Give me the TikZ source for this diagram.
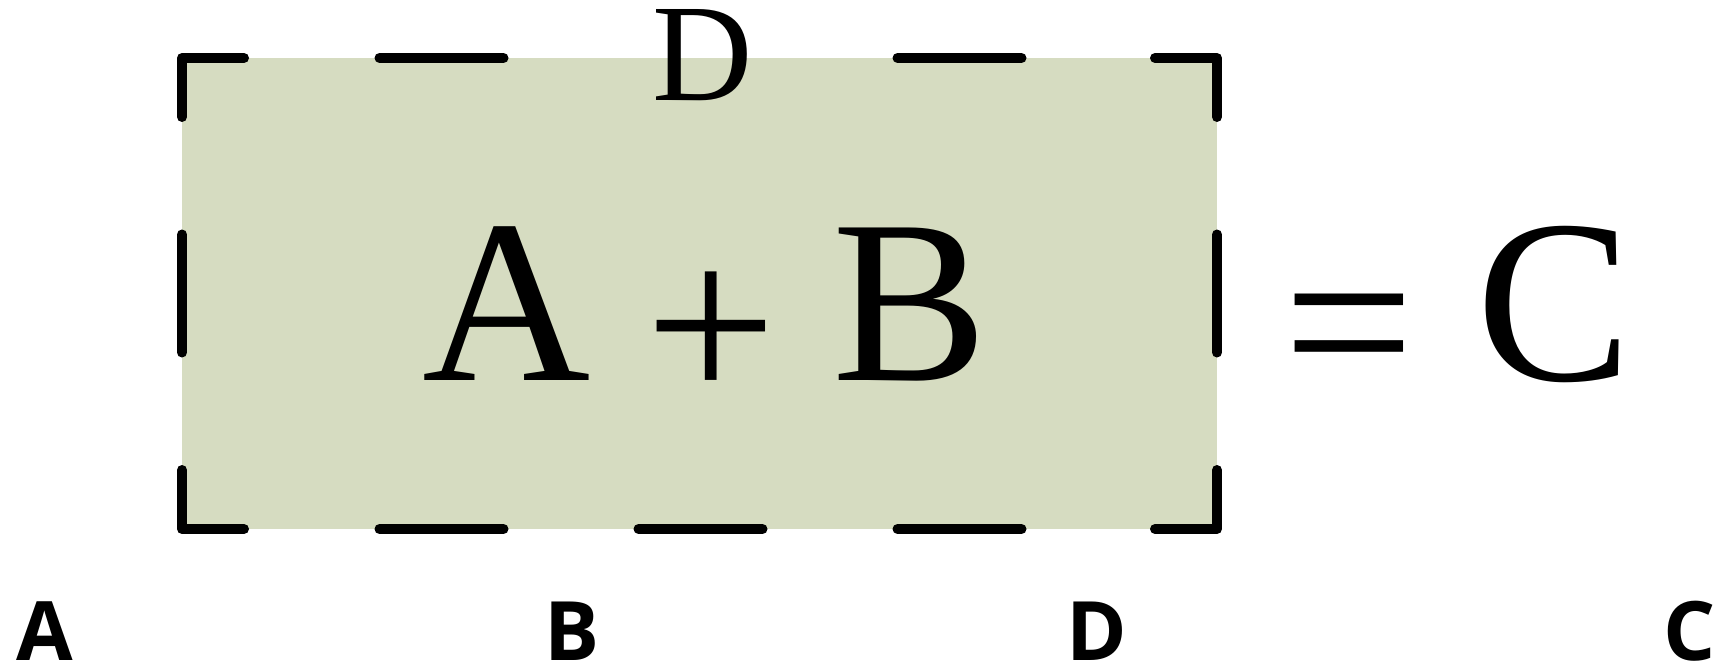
\documentclass[tikz,border=0pt]{standalone}
\usepackage{fontspec}
\usetikzlibrary{calc}
\setmainfont{Liberation Serif}
\newfontfamily\labelfont{Open Sans}
\definecolor{boxfill}{RGB}{214,220,193}
\begin{document}
\begin{tikzpicture}[x=1pt,y=-1pt,
  bigtxt/.style={inner sep=0pt,anchor=base,font=\fontsize{233}{240}\selectfont},
  toptxt/.style={inner sep=0pt,anchor=base,font=\fontsize{139}{145}\selectfont},
  lbl/.style={inner sep=0pt,anchor=base,font=\labelfont\bfseries\fontsize{82}{90}\selectfont},
  dashseg/.style={line width=10pt,line cap=round,line join=round,black}]
\useasboundingbox (0,0) rectangle (1721,663);
% box corners
\coordinate (nw) at (182,58);
\coordinate (ne) at (1217,58);
\coordinate (se) at (1217,529);
\coordinate (sw) at (182,529);
\fill[boxfill] (nw) rectangle (se);
% corner dashes
\draw[dashseg] ($(nw)+(0,59)$) -- (nw) -- ($(nw)+(62,0)$);
\draw[dashseg] ($(ne)+(-62,0)$) -- (ne) -- ($(ne)+(0,59)$);
\draw[dashseg] ($(se)+(0,-59)$) -- (se) -- ($(se)+(-62,0)$);
\draw[dashseg] ($(sw)+(62,0)$) -- (sw) -- ($(sw)+(0,-59)$);
% top edge dashes
\coordinate (t1) at (441.5,58);
\coordinate (t3) at (959.5,58);
\draw[dashseg] ($(t1)+(-62,0)$) -- ($(t1)+(62,0)$);
\draw[dashseg] ($(t3)+(-62,0)$) -- ($(t3)+(62,0)$);
% bottom edge dashes
\coordinate (b1) at (441.5,529);
\coordinate (b2) at (700.5,529);
\coordinate (b3) at (959.5,529);
\draw[dashseg] ($(b1)+(-62,0)$) -- ($(b1)+(62,0)$);
\draw[dashseg] ($(b2)+(-62,0)$) -- ($(b2)+(62,0)$);
\draw[dashseg] ($(b3)+(-62,0)$) -- ($(b3)+(62,0)$);
% side dashes
\coordinate (l1) at (182,293.5);
\coordinate (r1) at (1217,293.5);
\draw[dashseg] ($(l1)+(0,-59)$) -- ($(l1)+(0,59)$);
\draw[dashseg] ($(r1)+(0,-59)$) -- ($(r1)+(0,59)$);
% texts
\node[toptxt] (topD) at (703,101) {D};
\node[bigtxt] (A) at (506.5,380) {A};
\node[bigtxt] (plus) at (711,403) {+};
\node[bigtxt] (B) at (910,380) {B};
\node[bigtxt] (eq) at (1349,400) {=};
\node[bigtxt] (C) at (1554,380) {C};
\node[lbl] (la) at (45,660) {A};
\node[lbl] (lb) at (572,660) {B};
\node[lbl] (ld) at (1097,660) {D};
\node[lbl] (lc) at (1690,660) {C};
\end{tikzpicture}
\end{document}
